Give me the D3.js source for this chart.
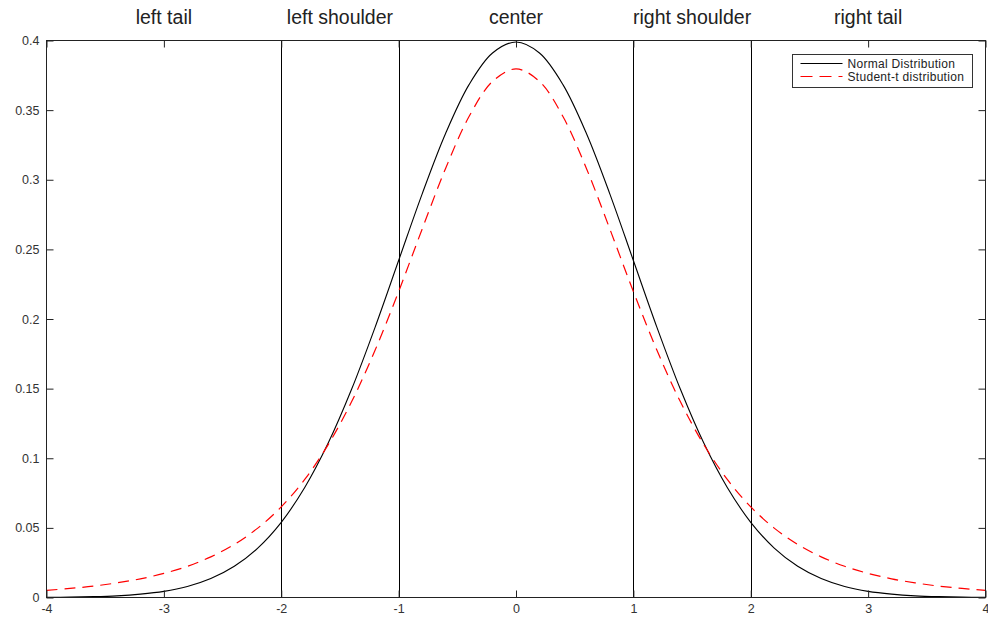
<!doctype html>
<html lang="en">
<head>
<meta charset="utf-8">
<title>Normal vs Student-t</title>
<style>
html, body, svg { margin: 0; padding: 0; border: 0; background: #fff; }
text { font-family: "Liberation Sans", Arial, Helvetica, sans-serif; }
</style>
</head>
<body>
<svg></svg>
<script src="https://d3js.org/d3.v7.min.js"></script>
<script>
// x positions of the sampled points
var xs = [-4, -3.8, -3.6, -3.4, -3.2, -3, -2.8, -2.6, -2.4, -2.2, -2, -1.8, -1.6, -1.4, -1.2, -1, -0.8, -0.6, -0.4, -0.2,
  0, 0.2, 0.4, 0.6, 0.8, 1, 1.2, 1.4, 1.6, 1.8, 2, 2.2, 2.4, 2.6, 2.8, 3, 3.2, 3.4, 3.6, 3.8, 4];

var normal = [0.0001, 0.0003, 0.0006, 0.0012, 0.0024, 0.0044, 0.0079, 0.0136, 0.0224, 0.0355, 0.0540, 0.0790, 0.1109, 0.1497, 0.1942, 0.2420, 0.2897, 0.3332, 0.3683, 0.3910,
  0.3989, 0.3910, 0.3683, 0.3332, 0.2897, 0.2420, 0.1942, 0.1497, 0.1109, 0.0790, 0.0540, 0.0355, 0.0224, 0.0136, 0.0079, 0.0044, 0.0024, 0.0012, 0.0006, 0.0003, 0.0001];

var studentT = [0.0051, 0.0065, 0.0082, 0.0105, 0.0134, 0.0173, 0.0224, 0.0292, 0.0381, 0.0498, 0.0651, 0.0848, 0.1098, 0.1407, 0.1777, 0.2197, 0.2645, 0.3081, 0.3454, 0.3706,
  0.3796, 0.3706, 0.3454, 0.3081, 0.2645, 0.2197, 0.1777, 0.1407, 0.1098, 0.0848, 0.0651, 0.0498, 0.0381, 0.0292, 0.0224, 0.0173, 0.0134, 0.0105, 0.0082, 0.0065, 0.0051];

var xTicks = [-4, -3, -2, -1, 0, 1, 2, 3, 4];
var yTicks = [0, 0.05, 0.1, 0.15, 0.2, 0.25, 0.3, 0.35, 0.4];
var boundaries = [-2, -1, 1, 2];
var regions = [
  {name: "left tail", at: -3},
  {name: "left shoulder", at: -1.5},
  {name: "center", at: 0},
  {name: "right shoulder", at: 1.5},
  {name: "right tail", at: 3}
];
var legendItems = [
  {name: "Normal Distribution", color: "#000", dash: null},
  {name: "Student-t distribution", color: "#f00", dash: "12,7"}
];

var w = 988, h = 619;
var plotL = 46.5, plotR = 985.5, plotT = 40.5, plotB = 597.5;

var svg = d3.select("svg").attr("width", w).attr("height", h);

var x = d3.scaleLinear().domain([-4, 4]).range([plotL, plotR]);
var y = d3.scaleLinear().domain([0, 0.4]).range([plotB, plotT]);

// region separators
svg.selectAll("line.sep")
  .data(boundaries)
  .enter().append("line")
  .attr("class", "sep")
  .attr("x1", function(d) { return Math.round(x(d)) + 0.5; })
  .attr("x2", function(d) { return Math.round(x(d)) + 0.5; })
  .attr("y1", plotT).attr("y2", plotB)
  .attr("stroke", "#000").attr("stroke-width", 1);

// curves
var line = d3.line()
  .x(function(d) { return x(d[0]); })
  .y(function(d) { return y(d[1]); })
  .curve(d3.curveCatmullRom.alpha(0.5));

svg.append("path")
  .datum(xs.map(function(v, i) { return [v, normal[i]]; }))
  .attr("d", line)
  .attr("fill", "none")
  .attr("stroke", "#000")
  .attr("stroke-width", 1.1);

svg.append("path")
  .datum(xs.map(function(v, i) { return [v, studentT[i]]; }))
  .attr("d", line)
  .attr("fill", "none")
  .attr("stroke", "#f00")
  .attr("stroke-width", 1.2)
  .attr("stroke-dasharray", "11,7");

// axes box with inward ticks
var axisColor = "#222";
svg.append("rect")
  .attr("x", plotL).attr("y", plotT)
  .attr("width", plotR - plotL).attr("height", plotB - plotT)
  .attr("fill", "none").attr("stroke", axisColor).attr("stroke-width", 1);

var bottomAxis = svg.append("g").attr("transform", "translate(0," + plotB + ")")
  .call(d3.axisBottom(x).tickValues(xTicks).tickSizeInner(-7).tickSizeOuter(0).tickPadding(7)
    .tickFormat(function(d) { return String(d); }));
var topAxis = svg.append("g").attr("transform", "translate(0," + plotT + ")")
  .call(d3.axisTop(x).tickValues(xTicks).tickSizeInner(-7).tickSizeOuter(0).tickFormat(""));
var leftAxis = svg.append("g").attr("transform", "translate(" + plotL + ",0)")
  .call(d3.axisLeft(y).tickValues(yTicks).tickSizeInner(-7).tickSizeOuter(0).tickPadding(7)
    .tickFormat(function(d) { return String(+d.toFixed(2)); }));
var rightAxis = svg.append("g").attr("transform", "translate(" + plotR + ",0)")
  .call(d3.axisRight(y).tickValues(yTicks).tickSizeInner(-7).tickSizeOuter(0).tickFormat(""));

[bottomAxis, topAxis, leftAxis, rightAxis].forEach(function(g) {
  g.select(".domain").remove();
  g.selectAll(".tick line").attr("stroke", axisColor);
  g.selectAll("text")
    .attr("fill", "#333")
    .style("font-size", "12.5px")
    .style("font-family", "'Liberation Sans', Arial, sans-serif");
});

// region labels
svg.selectAll("text.region")
  .data(regions)
  .enter().append("text")
  .attr("class", "region")
  .attr("x", function(d) { return x(d.at); })
  .attr("y", 24)
  .attr("text-anchor", "middle")
  .attr("fill", "#222")
  .style("font-size", "19.5px")
  .text(function(d) { return d.name; });

// legend
var lg = svg.append("g").attr("transform", "translate(792.5,54.5)");
lg.append("rect")
  .attr("width", 180).attr("height", 33)
  .attr("fill", "#fff").attr("stroke", "#333").attr("stroke-width", 1);
var items = lg.selectAll("g.item")
  .data(legendItems)
  .enter().append("g")
  .attr("class", "item")
  .attr("transform", function(d, i) { return "translate(0," + (9 + i * 13) + ")"; });
items.append("line")
  .attr("x1", 8).attr("x2", 50)
  .attr("stroke", function(d) { return d.color; })
  .attr("stroke-width", 1.2)
  .attr("stroke-dasharray", function(d) { return d.dash; });
items.append("text")
  .attr("x", 55).attr("y", 4)
  .attr("fill", "#222")
  .style("font-size", "12px")
  .style("letter-spacing", "0.3px")
  .text(function(d) { return d.name; });
</script>
</body>
</html>
